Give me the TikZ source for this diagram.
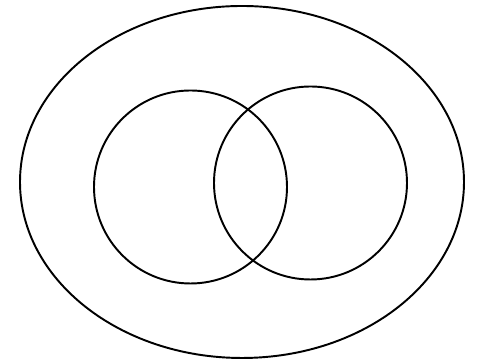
\documentclass[tikz,border=0pt]{standalone}
\usepackage{tikz}
\usetikzlibrary{shapes.geometric}

\begin{document}
\begin{tikzpicture}[
        outerset/.style={
            draw,
            ellipse,
            line width=1.1pt,
            inner sep=0pt,
            minimum width=8.88cm,
            minimum height=7.04cm
        },
        subset/.style={
            draw,
            circle,
            line width=1.1pt,
            inner sep=0pt,
            minimum size=3.86cm
        }
    ]
    
    \useasboundingbox (0, 0) rectangle (9.6, 7.2);
    
    \node[outerset] (universe) at (4.84, 3.56) {};
    \node[subset] (setA) at (3.81, 3.46) {};
    \node[subset] (setB) at (6.21, 3.54) {};
    
    \end{tikzpicture}
\end{document}
